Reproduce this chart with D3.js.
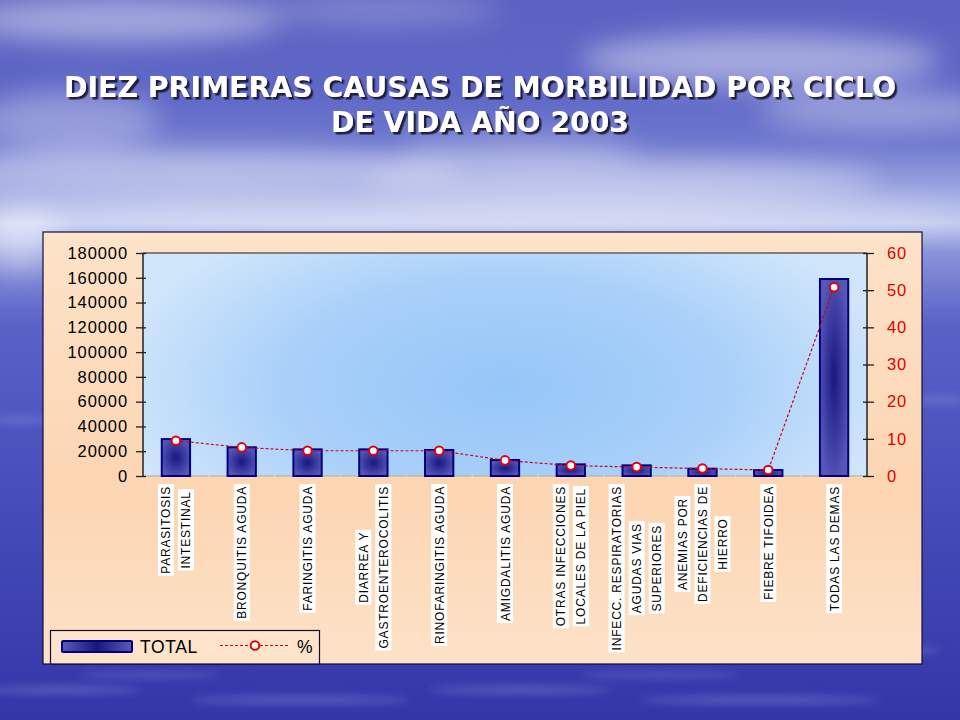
<!DOCTYPE html>
<html>
<head>
<meta charset="utf-8">
<script src="https://cdn.jsdelivr.net/npm/d3@7"></script>
<style>
  html, body { margin: 0; padding: 0; background: #4a50b8; }
  svg { display: block; }
</style>
</head>
<body>
<svg id="chart" width="960" height="720"></svg>
<script>
// ---------- DATA ----------
const titleLines = ["DIEZ PRIMERAS CAUSAS DE MORBILIDAD POR CICLO", "DE VIDA AÑO 2003"];
const categories = [
  ["PARASITOSIS", "INTESTINAL"],
  ["BRONQUITIS AGUDA"],
  ["FARINGITIS AGUDA"],
  ["DIARREA Y", "GASTROENTEROCOLITIS"],
  ["RINOFARINGITIS AGUDA"],
  ["AMIGDALITIS AGUDA"],
  ["OTRAS INFECCIONES", "LOCALES DE LA PIEL"],
  ["INFECC. RESPIRATORIAS", "AGUDAS VIAS", "SUPERIORES"],
  ["ANEMIAS POR", "DEFICIENCIAS DE", "HIERRO"],
  ["FIEBRE TIFOIDEA"],
  ["TODAS LAS DEMAS"]
];
const totalValues = [29800, 23200, 21500, 21500, 21000, 12900, 9400, 8600, 5900, 4800, 159000];
const pctValues   = [9.5, 7.7, 6.8, 6.8, 6.8, 4.2, 2.8, 2.4, 2.0, 1.6, 50.8];
const leftTicks  = [0, 20000, 40000, 60000, 80000, 100000, 120000, 140000, 160000, 180000];
const rightTicks = [0, 10, 20, 30, 40, 50, 60];
const seriesNames = ["TOTAL", "%"];

// ---------- SETUP ----------
const svg = d3.select("#chart");
const defs = svg.append("defs");

// slide background
const bg = defs.append("linearGradient").attr("id", "bgGrad").attr("x1", 0).attr("y1", 0).attr("x2", 0).attr("y2", 1);
[[0, "#5c62c2"], [0.12, "#5e66c6"], [0.2, "#6e78ce"], [0.26, "#9aa4e0"], [0.31, "#c4ccf0"],
 [0.35, "#8a94da"], [0.45, "#5a62c6"], [0.7, "#464cba"], [1, "#3436a8"]]
  .forEach(([o, c]) => bg.append("stop").attr("offset", o).attr("stop-color", c));

const blur = defs.append("filter").attr("id", "blur").attr("x", "-50%").attr("y", "-50%").attr("width", "200%").attr("height", "200%");
blur.append("feGaussianBlur").attr("stdDeviation", 14);
const blur2 = defs.append("filter").attr("id", "blur2").attr("x", "-50%").attr("y", "-50%").attr("width", "200%").attr("height", "200%");
blur2.append("feGaussianBlur").attr("stdDeviation", 4);
const shadow = defs.append("filter").attr("id", "shadow").attr("x", "-10%").attr("y", "-30%").attr("width", "120%").attr("height", "160%");
shadow.append("feDropShadow").attr("dx", 2.5).attr("dy", 2.5).attr("stdDeviation", 0.6)
  .attr("flood-color", "#15152e").attr("flood-opacity", 0.9);

// chart area gradient
const cg = defs.append("linearGradient").attr("id", "chartGrad").attr("x1", 0).attr("y1", 0).attr("x2", 0).attr("y2", 1);
cg.append("stop").attr("offset", 0).attr("stop-color", "#fde3c9");
cg.append("stop").attr("offset", 0.6).attr("stop-color", "#fcd5b2");
cg.append("stop").attr("offset", 1).attr("stop-color", "#fde2c8");

// plot area gradient
const pg = defs.append("radialGradient").attr("id", "plotGrad").attr("cx", 0.5).attr("cy", 0.6).attr("r", 0.55)
  .attr("gradientTransform", "translate(0.5 0.6) scale(1 1.6) translate(-0.5 -0.6)");
pg.append("stop").attr("offset", 0).attr("stop-color", "#96c6f8");
pg.append("stop").attr("offset", 0.55).attr("stop-color", "#a9d0f9");
pg.append("stop").attr("offset", 1).attr("stop-color", "#d0e6fb");

// bar gradient
const bgBar = defs.append("radialGradient").attr("id", "barGrad").attr("cx", 0.5).attr("cy", 0.5).attr("r", 0.55);
bgBar.append("stop").attr("offset", 0).attr("stop-color", "#181880");
bgBar.append("stop").attr("offset", 0.6).attr("stop-color", "#3c3ca2");
bgBar.append("stop").attr("offset", 1).attr("stop-color", "#5656b6");
const barH = defs.append("linearGradient").attr("id", "barGradH").attr("x1", 0).attr("y1", 0).attr("x2", 1).attr("y2", 0);
barH.append("stop").attr("offset", 0).attr("stop-color", "#5a5ab8");
barH.append("stop").attr("offset", 0.5).attr("stop-color", "#18187c");
barH.append("stop").attr("offset", 1).attr("stop-color", "#5a5ab8");

svg.append("rect").attr("width", 960).attr("height", 720).attr("fill", "url(#bgGrad)");

// clouds
const clouds = svg.append("g").attr("filter", "url(#blur)");
[[120, 20, 160, 22, 0.45], [380, 10, 120, 14, 0.25], [760, 60, 180, 26, 0.45], [880, 110, 120, 20, 0.35],
 [200, 170, 260, 22, 0.4], [620, 180, 260, 20, 0.4], [480, 215, 480, 12, 0.45], [70, 120, 90, 30, 0.3],
 [520, 150, 120, 14, 0.3], [20, 240, 40, 30, 0.5]]
  .forEach(([cx, cy, rx, ry, op]) => clouds.append("ellipse").attr("cx", cx).attr("cy", cy).attr("rx", rx).attr("ry", ry)
    .attr("fill", "#ffffff").attr("opacity", op));
const streaks = svg.append("g").attr("filter", "url(#blur2)");
[[60, 690, 80, 3], [300, 700, 110, 3], [520, 690, 90, 3], [760, 700, 120, 3], [880, 650, 60, 3],
 [20, 420, 30, 3], [940, 400, 30, 3], [150, 675, 70, 2], [660, 675, 80, 2]]
  .forEach(([cx, cy, rx, ry]) => streaks.append("ellipse").attr("cx", cx).attr("cy", cy).attr("rx", rx).attr("ry", ry)
    .attr("fill", "#8e98e0").attr("opacity", 0.5));

// ---------- TITLE ----------
const title = svg.append("g").attr("font-family", "'DejaVu Sans', sans-serif")
  .attr("font-weight", "bold").attr("font-size", 29).attr("text-anchor", "middle")
  .attr("filter", "url(#shadow)");
const titleWidths = [832, 298];
titleLines.forEach((t, i) => {
  title.append("text").attr("x", 480).attr("y", 97 + i * 35).attr("fill", "#ffffff")
    .attr("textLength", titleWidths[i]).attr("lengthAdjust", "spacingAndGlyphs").text(t);
});

// ---------- CHART AREA ----------
const box = { x: 43, y: 232, w: 879, h: 432 };
svg.append("rect").attr("x", box.x).attr("y", box.y).attr("width", box.w).attr("height", box.h)
  .attr("fill", "url(#chartGrad)").attr("stroke", "#10103a").attr("stroke-width", 1.2);

const plot = { left: 143, right: 867, top: 253, bottom: 476 };
svg.append("rect").attr("x", plot.left).attr("y", plot.top).attr("width", plot.right - plot.left)
  .attr("height", plot.bottom - plot.top).attr("fill", "url(#plotGrad)");
svg.append("line").attr("x1", plot.left).attr("x2", plot.right).attr("y1", plot.top).attr("y2", plot.top)
  .attr("stroke", "#808080").attr("stroke-width", 2);

const x = d3.scaleBand().domain(d3.range(categories.length)).range([plot.left, plot.right]).padding(0);
const yL = d3.scaleLinear().domain([0, 180000]).range([plot.bottom, plot.top]);
const yR = d3.scaleLinear().domain([0, 60]).range([plot.bottom, plot.top]);
const barW = x.bandwidth() * 0.43;

// x axis baseline & category ticks
svg.append("line").attr("x1", plot.left).attr("x2", plot.right).attr("y1", plot.bottom).attr("y2", plot.bottom)
  .attr("stroke", "#b8a898").attr("stroke-width", 1);
svg.append("g").selectAll("line").data(d3.range(1, categories.length)).join("line")
  .attr("x1", d => x(d)).attr("x2", d => x(d)).attr("y1", plot.bottom - 2).attr("y2", plot.bottom + 3)
  .attr("stroke", "#e8d8c8").attr("stroke-width", 1);

// left axis
const leftAxis = svg.append("g").attr("transform", `translate(${plot.left},0)`)
  .call(d3.axisLeft(yL).tickValues(leftTicks).tickSize(7).tickPadding(8).tickFormat(d3.format("d")));
leftAxis.select(".domain").attr("stroke", "#202020").attr("stroke-width", 1.5).attr("d", `M0,${plot.top}V${plot.bottom}`);
leftAxis.selectAll(".tick line").attr("stroke", "#202020").attr("stroke-width", 1.3).attr("x2", -7).attr("x1", 3);
leftAxis.selectAll(".tick text").attr("font-family", "Arial, 'Liberation Sans', sans-serif")
  .attr("font-size", 16.5).attr("letter-spacing", "0.9px").attr("fill", "#000");

// right axis
const rightAxis = svg.append("g").attr("transform", `translate(${plot.right},0)`)
  .call(d3.axisRight(yR).tickValues(rightTicks).tickSize(7).tickPadding(13));
rightAxis.select(".domain").attr("stroke", "#202020").attr("stroke-width", 1.5).attr("d", `M0,${plot.top}V${plot.bottom}`);
rightAxis.selectAll(".tick line").attr("stroke", "#202020").attr("stroke-width", 1.3).attr("x1", -4).attr("x2", 7);
rightAxis.selectAll(".tick text").attr("font-family", "Arial, 'Liberation Sans', sans-serif")
  .attr("font-size", 16.5).attr("letter-spacing", "0.9px").attr("fill", "#e00000");

// bars
svg.append("g").selectAll("rect").data(totalValues).join("rect")
  .attr("x", (d, i) => x(i) + x.bandwidth() / 2 - barW / 2)
  .attr("y", d => yL(d))
  .attr("width", barW)
  .attr("height", d => plot.bottom - yL(d))
  .attr("fill", "url(#barGrad)")
  .attr("stroke", "#000080").attr("stroke-width", 2);

// percent line
const line = d3.line().x((d, i) => x(i) + x.bandwidth() / 2).y(d => yR(d));
svg.append("path").datum(pctValues).attr("d", line).attr("fill", "none")
  .attr("stroke", "#d00020").attr("stroke-width", 1.2).attr("stroke-dasharray", "3,2");
svg.append("g").selectAll("circle").data(pctValues).join("circle")
  .attr("cx", (d, i) => x(i) + x.bandwidth() / 2).attr("cy", d => yR(d)).attr("r", 4.3)
  .attr("fill", "#ffffff").attr("stroke", "#e00010").attr("stroke-width", 2);

// category labels (rotated, white boxes)
const labG = svg.append("g").attr("font-family", "Arial, 'Liberation Sans', sans-serif").attr("font-size", 12)
  .attr("letter-spacing", "0.8px").attr("fill", "#000");
categories.forEach((lines, i) => {
  const cx = x(i) + x.bandwidth() / 2;
  const n = lines.length;
  const g = labG.append("g");
  const texts = lines.map((t, j) => {
    const lx = cx + (j - (n - 1) / 2) * 20;
    return { t, lx, node: g.append("text").attr("text-anchor", "middle").text(t) };
  });
  const lens = texts.map(o => o.node.node().getComputedTextLength());
  const maxLen = d3.max(lens);
  const centerY = 486 + maxLen / 2;
  texts.forEach((o, j) => {
    g.insert("rect", "text")
      .attr("x", o.lx - 8).attr("y", centerY - lens[j] / 2 - 2)
      .attr("width", 16).attr("height", lens[j] + 4).attr("fill", "#ffffff");
    o.node.attr("transform", `translate(${o.lx + 4.5},${centerY}) rotate(-90)`);
  });
});

// legend
const lg = svg.append("g");
lg.append("rect").attr("x", 50.5).attr("y", 630.5).attr("width", 269).attr("height", 33.5)
  .attr("fill", "#fde3c9").attr("stroke", "#10103a").attr("stroke-width", 1.2);
lg.append("rect").attr("x", 62).attr("y", 641).attr("width", 70).attr("height", 11)
  .attr("fill", "url(#barGradH)").attr("stroke", "#000080").attr("stroke-width", 2).attr("rx", 1);
lg.append("text").attr("x", 140).attr("y", 653).attr("font-family", "Arial, 'Liberation Sans', sans-serif")
  .attr("font-size", 17.5).attr("letter-spacing", "0.6px").attr("fill", "#000").text(seriesNames[0]);
lg.append("line").attr("x1", 220).attr("x2", 290).attr("y1", 645.5).attr("y2", 645.5)
  .attr("stroke", "#d00020").attr("stroke-width", 1.2).attr("stroke-dasharray", "3,2");
lg.append("circle").attr("cx", 255).attr("cy", 645.5).attr("r", 4.3)
  .attr("fill", "#fff").attr("stroke", "#e00010").attr("stroke-width", 2);
lg.append("text").attr("x", 297).attr("y", 653).attr("font-family", "Arial, 'Liberation Sans', sans-serif")
  .attr("font-size", 17.5).attr("fill", "#000").text(seriesNames[1]);
</script>
</body>
</html>
